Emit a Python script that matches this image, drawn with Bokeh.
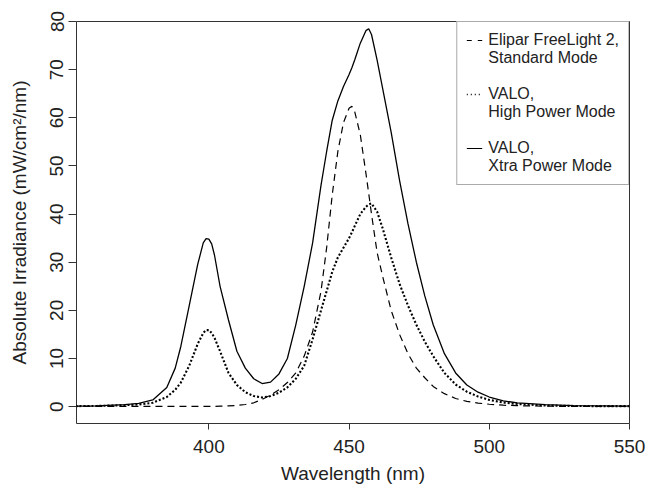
import numpy as np
from bokeh.plotting import figure
from bokeh.models import Range1d, Legend, LegendItem, FixedTicker
from bokeh.embed import file_html
from bokeh.resources import INLINE

wavelength = [351, 360, 370, 375, 380, 385, 388, 390, 393, 396, 398, 399, 400, 401, 402,
              404, 407, 410, 413, 416, 419, 422, 425, 428, 431, 434, 437, 440, 442, 444,
              446, 448, 450, 451, 452, 454, 456, 457, 458, 460, 462, 465, 468, 471, 474,
              477, 480, 484, 488, 492, 496, 500, 505, 510, 520, 530, 540, 550]

elipar_standard = [0.05, 0.05, 0.05, 0.05, 0.05, 0.05, 0.05, 0.05, 0.05, 0.05, 0.05, 0.05, 0.05, 0.05, 0.05,
                   0.1, 0.15, 0.25, 0.45, 0.8, 1.5, 2.4, 3.5, 5.0, 7.0, 10.5, 15.5, 24.0, 33.0, 44.0,
                   53.0, 59.0, 62.0, 62.4, 61.3, 56.5, 48.5, 44.3, 40.0, 32.0, 27.0, 20.0, 15.0, 11.0, 8.0,
                   6.0, 4.2, 2.7, 1.7, 1.1, 0.75, 0.5, 0.3, 0.2, 0.1, 0.05, 0.05, 0.05]

valo_high = [0.1, 0.15, 0.3, 0.45, 0.8, 2.0, 3.5, 5.0, 8.5, 13.0, 15.3, 15.9, 15.9, 15.3, 14.3,
             11.5, 7.0, 4.5, 3.0, 2.2, 1.9, 2.2, 2.9, 4.0, 5.8, 8.5, 14.0, 20.0, 24.0, 28.0,
             31.0, 33.0, 35.0, 36.2, 37.5, 40.0, 41.5, 42.0, 42.2, 40.5, 37.0, 31.0, 25.5, 21.0, 17.0,
             13.5, 10.5, 7.0, 4.6, 3.1, 2.1, 1.4, 0.85, 0.55, 0.25, 0.15, 0.1, 0.1]

valo_xtra = [0.1, 0.15, 0.4, 0.7, 1.4, 4.0, 8.0, 12.5, 21.0, 29.5, 34.0, 34.9, 34.8, 33.8, 31.5,
             25.0, 18.0, 11.5, 8.0, 5.8, 4.8, 5.1, 6.8, 10.0, 17.0, 25.0, 34.0, 46.0, 53.0, 59.5,
             63.5, 66.5, 69.0, 70.4, 72.0, 75.5, 78.1, 78.5, 77.3, 72.0, 66.0, 57.0, 47.0, 38.0, 30.0,
             23.0, 17.0, 11.0, 7.0, 4.5, 3.0, 2.0, 1.2, 0.8, 0.4, 0.2, 0.15, 0.1]

x_ticks = [400, 450, 500, 550]
y_ticks = [0, 10, 20, 30, 40, 50, 60, 70, 80]

# each legend entry is two lines; the key sits beside the first line
legend_lines = [("Elipar FreeLight 2,", "Standard Mode"),
                ("VALO,", "High Power Mode"),
                ("VALO,", "Xtra Power Mode")]

FONT = "Liberation Sans"
INK = "#222222"

p = figure(width=646, height=486, output_backend="svg", toolbar_location=None,
           x_range=Range1d(352.8, 550), y_range=Range1d(-3.5, 80),
           min_border_left=76, min_border_top=21, min_border_right=17, min_border_bottom=63)

p.xgrid.visible = False
p.ygrid.visible = False
p.outline_line_color = "#333333"
p.outline_line_width = 1
p.background_fill_color = "white"
p.border_fill_color = "white"

r1 = p.line(wavelength, elipar_standard, line_color="black", line_width=1.2, line_dash="7 5")
r2 = p.line(wavelength, valo_high, line_color="black", line_width=2.1, line_dash="2 2")
r3 = p.line(wavelength, valo_xtra, line_color="black", line_width=1.3)

# legend-key renderers: a single NaN point draws nothing on the plot,
# but lets the legend show shorter dash patterns like the original key
nan = [np.nan]
k1 = p.line(nan, nan, line_color="black", line_width=1.2, line_dash="5 6")
k2 = p.line(nan, nan, line_color="black", line_width=1.6, line_dash="1 3")
k3 = p.line(nan, nan, line_color="black", line_width=1.2)
kb = p.line(nan, nan, line_color="black", line_alpha=0)

items = []
keys = [k1, k2, k3]
for i, (first, second) in enumerate(legend_lines):
    items.append(LegendItem(label=first, renderers=[keys[i]]))
    tail = second if i == len(legend_lines) - 1 else second + "\n "
    items.append(LegendItem(label=tail, renderers=[kb]))

for ax in (p.xaxis, p.yaxis):
    ax.axis_line_color = None
    ax.major_tick_line_color = "#333333"
    ax.major_tick_in = 0
    ax.minor_tick_line_color = None
    ax.major_label_text_font = FONT
    ax.major_label_text_font_size = "19px"
    ax.major_label_text_color = INK
    ax.axis_label_text_font = FONT
    ax.axis_label_text_font_size = "19px"
    ax.axis_label_text_font_style = "normal"
    ax.axis_label_text_color = INK

p.xaxis.ticker = FixedTicker(ticks=x_ticks)
p.yaxis.ticker = FixedTicker(ticks=y_ticks)
p.xaxis.axis_label = "Wavelength (nm)"
p.yaxis.axis_label = "Absolute Irradiance (mW/cm²/nm)"
p.xaxis.major_tick_out = 6
p.xaxis.major_label_standoff = 10
p.xaxis.axis_label_standoff = 7
p.yaxis.major_tick_out = 8
p.yaxis.major_label_orientation = "vertical"
p.yaxis.major_label_standoff = 5
p.yaxis.axis_label_standoff = 18

legend = Legend(items=items,
                location="top_right", margin=0, padding=9, spacing=0,
                glyph_width=16, glyph_height=10, label_height=10, label_standoff=6,
                label_text_font=FONT, label_text_font_size="16px", label_text_color=INK,
                label_text_line_height=1.02,
                border_line_color="#555555", border_line_width=1,
                background_fill_alpha=1.0)
p.add_layout(legend)

open("out.html", "w").write(file_html(p, INLINE))
